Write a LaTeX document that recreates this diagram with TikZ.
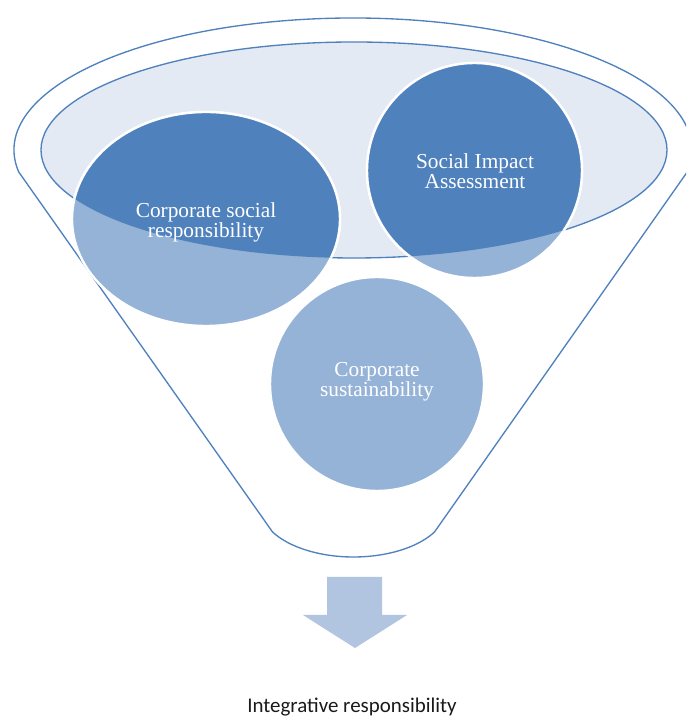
\documentclass[tikz,border=0pt]{standalone}
\usepackage{fontspec}
\setmainfont{Liberation Serif}
\newfontfamily\labelsans{Carlito}
\definecolor{funnelline}{HTML}{4F81BD}
\definecolor{innerfill}{HTML}{E4EAF4}
\definecolor{darkdisc}{HTML}{4F81BD}
\definecolor{lightdisc}{HTML}{95B3D7}
\definecolor{arrowfill}{HTML}{B1C4E0}
\definecolor{inktext}{HTML}{1A1A1A}
\begin{document}
\begin{tikzpicture}[x=0.75pt,y=0.75pt,
  funnel/.style={draw=funnelline, line width=1pt},
  lightpart/.style={fill=lightdisc, draw=white, line width=1.8pt},
  darkpart/.style={fill=darkdisc, draw=white, line width=1.8pt},
  disctext/.style={text=white, align=center, inner sep=0pt,
    font=\fontsize{16}{15}\selectfont},
  resulttext/.style={text=inktext, anchor=base, inner sep=0pt,
    font=\labelsans\fontsize{15.7}{18}\selectfont}]
\useasboundingbox (0,0) rectangle (686,716);
\clip (0,0) rectangle (686,716);

% funnel body: top rim, straight sides, rounded spout
\draw[funnel, fill=white]
  (18.75,544) arc[start angle=189.6, end angle=-9.6, x radius=339, y radius=132]
  -- (434.5,184) arc[start angle=-30, end angle=-150, x radius=93.5, y radius=50]
  -- cycle;

% inner mouth of the funnel
\draw[funnel, fill=innerfill] (354,566) ellipse[x radius=313, y radius=108];

% three discs, pale where they leave the mouth
\path[lightpart] (206,497) ellipse[x radius=134, y radius=107];
\path[lightpart] (474.5,545.5) circle[radius=107.5];
\path[lightpart] (377,332) circle[radius=107];

% the parts inside the mouth are dark
\begin{scope}
  \clip (354,566) ellipse[x radius=313, y radius=108];
  \path[darkpart] (206,497) ellipse[x radius=134, y radius=107];
  \path[darkpart] (474.5,545.5) circle[radius=107.5];
\end{scope}

% disc labels
\node[disctext] (csr) at (206,494) {Corporate social\\responsibility};
\node[disctext] (sia) at (475,545) {Social Impact\\Assessment};
\node[disctext] (cs) at (377,334) {Corporate\\sustainability};

% down arrow below the spout
\fill[arrowfill] (327,139) -- (382,139) -- (382,101) -- (407,101)
  -- (355,68) -- (303,101) -- (327,101) -- cycle;

% outcome
\node[resulttext] (result) at (352,3) {Integrative responsibility};
\end{tikzpicture}
\end{document}
